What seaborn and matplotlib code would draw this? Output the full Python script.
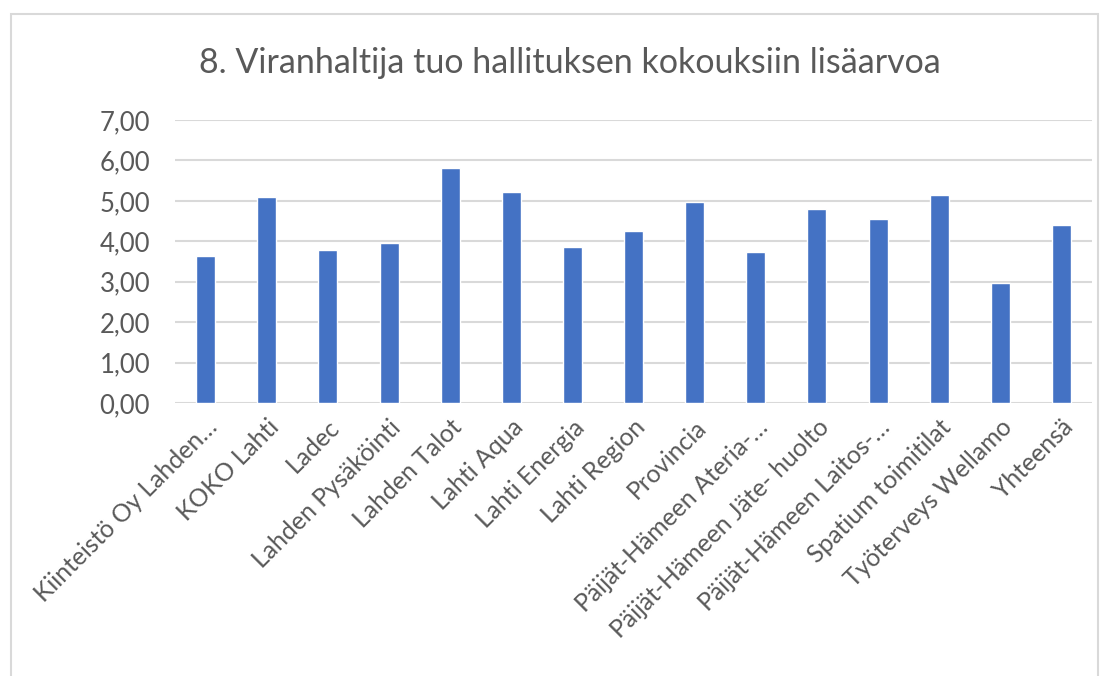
import matplotlib
matplotlib.use("Agg")
import matplotlib.pyplot as plt
import seaborn as sns
import pandas as pd
from matplotlib.patches import Rectangle

# Data
yhtiot = [
    "Kiinteistö Oy Lahden…",
    "KOKO Lahti",
    "Ladec",
    "Lahden Pysäköinti",
    "Lahden Talot",
    "Lahti Aqua",
    "Lahti Energia",
    "Lahti Region",
    "Provincia",
    "Päijät-Hämeen Ateria-…",
    "Päijät-Hämeen Jäte- huolto",
    "Päijät-Hämeen Laitos-…",
    "Spatium toimitilat",
    "Työterveys Wellamo",
    "Yhteensä",
]
arvot = [3.64, 5.10, 3.78, 3.96, 5.81, 5.22, 3.86, 4.26, 4.96, 3.74, 4.81, 4.56, 5.14, 2.96, 4.41]
y_ticks = [0, 1, 2, 3, 4, 5, 6, 7]

df = pd.DataFrame({"Yhtiö": yhtiot, "Arvo": arvot})

sns.set_theme(style="white")
plt.rcParams["font.family"] = ["Lato", "DejaVu Sans"]

fig = plt.figure(figsize=(11.08, 6.76), dpi=100)
ax = fig.add_axes([0.158, 0.4038, 0.8276, 0.4187])

sns.barplot(data=df, x="Yhtiö", y="Arvo", color="#4472C4", width=0.31,
            saturation=1, ax=ax, zorder=3)

ax.set_ylim(0, 7)
ax.set_yticks(y_ticks)
ax.set_yticklabels([f"{v:.2f}".replace(".", ",") for v in y_ticks],
                   fontsize=18.5, color="#595959")
ax.set_xlim(-0.5, len(yhtiot) - 0.5)
ax.set_xticks(range(len(yhtiot)))
ax.set_xticklabels(yhtiot, rotation=45, ha="right", rotation_mode="anchor",
                   fontsize=17.8, color="#595959")
ax.tick_params(axis="both", length=0)
ax.tick_params(axis="y", pad=18)
ax.tick_params(axis="x", pad=9)
ax.set_xlabel("")
ax.set_ylabel("")
ax.yaxis.grid(True, color="#D9D9D9", linewidth=1.5, zorder=0)
for s in ax.spines.values():
    s.set_visible(False)

fig.text(0.514, 0.907, "8. Viranhaltija tuo hallituksen kokouksiin lisäarvoa",
         ha="center", va="center", fontsize=24.5, color="#595959")

# chart frame
fig.patches.append(Rectangle((0.010, -0.05), 0.981, 1.03, transform=fig.transFigure,
                             fill=False, edgecolor="#D9D9D9", linewidth=1.5))

fig.savefig("out.png", dpi=100)
